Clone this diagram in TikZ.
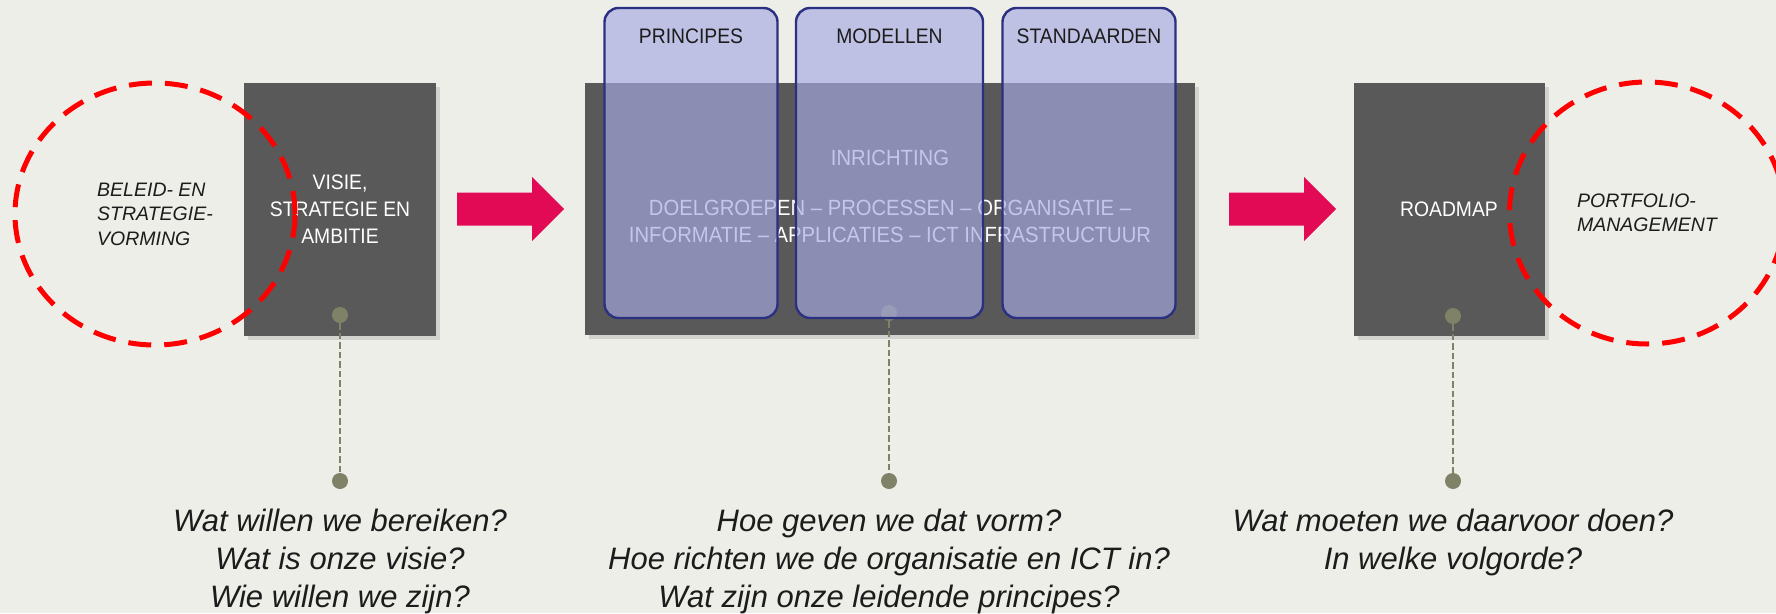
\documentclass[tikz,border=0pt]{standalone}
\usepackage{fontspec}
\setmainfont{Liberation Sans}
\newfontfamily\lblfont{Liberation Sans}[FakeStretch=0.92]
\usetikzlibrary{positioning}
\usetikzlibrary{shapes.geometric, shapes.arrows, shadows}

\definecolor{bgcol}{HTML}{EEEEE9}
\definecolor{boxgray}{HTML}{595959}
\definecolor{ringred}{HTML}{FF0000}
\definecolor{arrowpink}{HTML}{E20A55}
\definecolor{stemolive}{HTML}{7F8266}
\definecolor{lavfill}{RGB}{166,170,225}
\definecolor{lavline}{HTML}{2B3080}
\definecolor{inkdark}{HTML}{1C1C1C}

\begin{document}
\begin{tikzpicture}[
    x=1pt, y=-1pt,
    phase/.style={rectangle, fill=boxgray, inner sep=0pt, text=white, align=center,
        font=\lblfont\fontsize{21}{27}\selectfont,
        drop shadow={shadow xshift=4pt, shadow yshift=-4pt, opacity=0.25}},
    midtxt/.style={align=center, inner sep=0pt, text=white,
        font=\lblfont\fontsize{22}{27}\selectfont},
    lavbox/.style={rectangle, rounded corners=14pt, draw=lavline, line width=2.4pt,
        fill=lavfill, fill opacity=0.66, minimum height=310pt, inner sep=0pt},
    lavlbl/.style={inner sep=0pt, text=inkdark, font=\lblfont\fontsize{21}{25}\selectfont},
    ring/.style={ellipse, draw=ringred, line width=5pt, dash pattern=on 23pt off 13pt,
        align=left, text=inkdark, minimum height=262pt,
        font=\itshape\fontsize{19.5}{24.5}\selectfont},
    arrowblk/.style={single arrow, fill=arrowpink, single arrow tip angle=90,
        single arrow head extend=15.7pt, minimum height=107pt, minimum width=64pt,
        inner xsep=0pt, inner ysep=16.3pt, anchor=tail},
    knob/.style={circle, fill=stemolive, minimum size=16pt, inner sep=0pt},
    stemline/.style={draw=stemolive, line width=2.7pt, dash pattern=on 6.5pt off 3pt},
    quest/.style={align=center, inner sep=0pt, text=inkdark,
        font=\itshape\fontsize{31}{38}\selectfont},
]
    % achtergrond
    \fill[bgcol] (0,0) rectangle (1776,613);
    \useasboundingbox (0,0) rectangle (1776,613);

    % --- visie ---
    \node (visie) [phase, minimum width=192pt, minimum height=253pt] at (340,209.5)
        {VISIE,\\STRATEGIE EN\\AMBITIE};
    \node (beleid) [ring, minimum width=280pt] at (155,214) {BELEID- EN\\STRATEGIE-\\VORMING};

    \node (arr1) [arrowblk] at (457,209) {};

    % --- inrichting ---
    \node (mid) [phase, minimum width=610pt, minimum height=252pt] at (890,209) {};
    \node (midtekst) [midtxt, anchor=north] at (890,150)
        {INRICHTING\\[23pt]DOELGROEPEN – PROCESSEN – ORGANISATIE –\\INFORMATIE – APPLICATIES – ICT INFRASTRUCTUUR};
    \node (d2) [knob] at (889,313) {};
    \node (b2) [knob] at (889,481) {};
    \draw[stemline] (d2) -- (b2);

    \node (princ) [lavbox, minimum width=173pt] at (691,163) {};
    \node (model) [lavbox, minimum width=187pt] at (889.5,163) {};
    \node (stand) [lavbox, minimum width=173pt] at (1089,163) {};
    \node (princlbl) [lavlbl, below=22pt of princ.north] {PRINCIPES};
    \node (modellbl) [lavlbl, below=22pt of model.north] {MODELLEN};
    \node (standlbl) [lavlbl, below=22pt of stand.north] {STANDAARDEN};

    \node (arr2) [arrowblk] at (1229,209) {};

    % --- roadmap ---
    \node (roadmap) [phase, minimum width=191pt, minimum height=253pt] at (1449,209.5) {ROADMAP};
    \node (portfolio) [ring, minimum width=275pt] at (1647,213) {PORTFOLIO-\\MANAGEMENT};

    % --- vragen ---
    \node (d1) [knob] at (340,315) {};
    \node (b1) [knob] at (340,481) {};
    \draw[stemline] (d1) -- (b1);
    \node (d3) [knob] at (1453,316) {};
    \node (b3) [knob] at (1453,481) {};
    \draw[stemline] (d3) -- (b3);

    \node (q1) [quest, below=20pt of b1] {Wat willen we bereiken?\\Wat is onze visie?\\Wie willen we zijn?};
    \node (q2) [quest, below=20pt of b2] {Hoe geven we dat vorm?\\Hoe richten we de organisatie en ICT in?\\Wat zijn onze leidende principes?};
    \node (q3) [quest, below=20pt of b3] {Wat moeten we daarvoor doen?\\In welke volgorde?};
\end{tikzpicture}
\end{document}
